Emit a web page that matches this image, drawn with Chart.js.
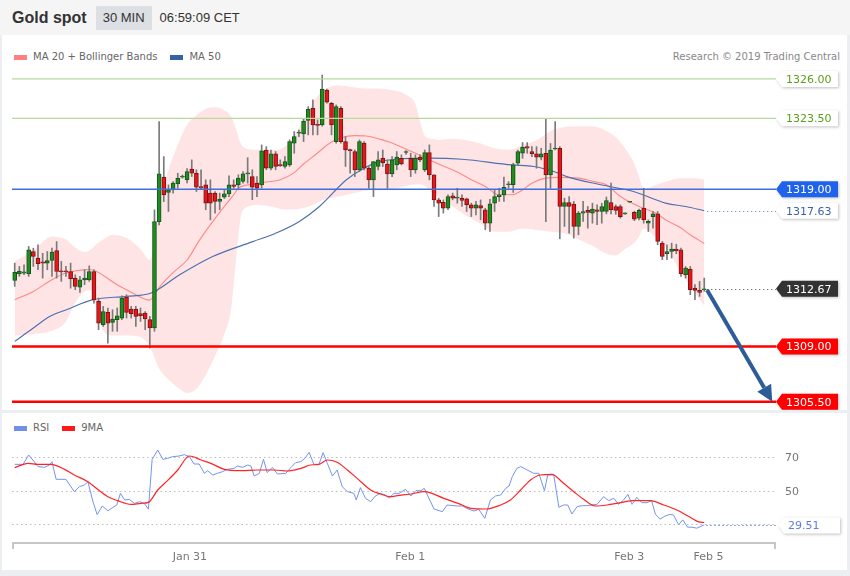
<!DOCTYPE html>
<html>
<head>
<meta charset="utf-8">
<script src="https://cdn.jsdelivr.net/npm/chart.js@4.4.1/dist/chart.umd.min.js"></script>
<style>
  body { margin: 0; width: 850px; height: 576px; position: relative; overflow: hidden; background: #eceef1; font-family: "DejaVu Sans", sans-serif; }
  .panel { position: absolute; left: 2px; width: 845px; background: #fff; }
  #head { position: absolute; left: 0; top: 0; width: 850px; height: 35px; background: #f5f5f5; display: flex; align-items: center; font-family: "Liberation Sans", Arial, sans-serif; color: #333; }
  #head .title { margin-left: 12px; font-weight: bold; font-size: 16px; }
  #head .tf { margin-left: 9px; background: #dcdfe3; height: 24px; line-height: 24px; padding: 0 7px; font-size: 13px; }
  #head .time { margin-left: 8px; font-size: 13px; }
  .legend { position: absolute; left: 14px; font-size: 10px; color: #666; display: flex; align-items: center; height: 12px; line-height: 12px; }
  .legend i { display: inline-block; width: 13px; height: 5px; margin-right: 6px; }
  .legend span { margin-right: 13px; }
  #credit { position: absolute; right: 10px; top: 51px; font-size: 10px; color: #888; line-height: 12px; }
  canvas { position: absolute; left: 0; }
</style>
</head>
<body>
<div id="head"><span class="title">Gold spot</span><span class="tf">30 MIN</span><span class="time">06:59:09 CET</span></div>
<div class="panel" style="top:35px;height:375px"></div>
<div class="panel" style="top:413px;height:157px"></div>

<div class="legend" style="top:51px"><i style="background:#ff8080"></i><span>MA 20 + Bollinger Bands</span><i style="background:#3561a6"></i><span>MA 50</span></div>
<div id="credit">Research © 2019 Trading Central</div>
<div class="legend" style="top:422px"><i style="background:#6f8fea"></i><span>RSI</span><i style="background:#ff1a1a"></i><span>9MA</span></div>

<canvas id="priceChart" width="850" height="340" style="top:70px"></canvas>
<canvas id="rsiChart" width="850" height="166" style="top:410px"></canvas>

<script>
// 30 min candles
const candleOpen = [
  1313.20, 1313.62, 1313.67, 1313.62, 1315.04, 1314.62, 1314.39, 1314.30, 1314.47, 1315.10,
  1313.77, 1313.77, 1313.77, 1313.35, 1312.78, 1313.24, 1313.24, 1313.77, 1311.87, 1310.39,
  1311.17, 1310.54, 1310.71, 1310.81, 1312.14, 1311.38, 1311.38, 1311.09, 1311.13, 1310.71,
  1310.18, 1316.94, 1319.76, 1318.79, 1318.95, 1319.33, 1319.76, 1319.59, 1320.27, 1320.01,
  1319.13, 1319.27, 1318.75, 1318.75, 1318.22, 1318.49, 1318.70, 1319.27, 1319.27, 1319.49,
  1319.97, 1319.80, 1319.38, 1319.27, 1321.49, 1320.33, 1321.24, 1320.54, 1320.44, 1320.54,
  1321.92, 1322.55, 1322.51, 1323.36, 1324.14, 1323.08, 1323.08, 1325.30, 1324.46, 1322.02,
  1324.14, 1322.02, 1321.49, 1321.39, 1320.23, 1321.92, 1320.33, 1319.59, 1320.44, 1320.96,
  1320.59, 1319.97, 1320.54, 1320.96, 1321.33, 1320.96, 1320.23, 1321.03, 1320.23, 1321.33,
  1319.91, 1318.32, 1318.17, 1317.79, 1318.58, 1318.43, 1318.43, 1318.38, 1318.00, 1317.79,
  1317.95, 1317.69, 1316.84, 1318.11, 1318.53, 1318.64, 1319.28, 1319.28, 1320.65, 1321.28,
  1321.70, 1321.39, 1321.24, 1321.03, 1321.28, 1319.91, 1321.55, 1321.60, 1317.90, 1318.15,
  1318.05, 1316.63, 1317.48, 1317.65, 1317.48, 1317.69, 1317.58, 1317.58, 1318.15, 1317.90,
  1317.90, 1317.43, 1318.17, 1317.52, 1317.16, 1317.79, 1316.84, 1317.26, 1317.43, 1315.57,
  1314.90, 1315.04, 1315.19, 1315.15, 1313.56, 1313.92, 1312.72, 1312.57, 1312.61
];
const candleHigh = [
  1314.30, 1314.09, 1314.19, 1315.36, 1315.25, 1315.46, 1314.93, 1315.04, 1315.25, 1315.67,
  1314.41, 1314.09, 1314.30, 1313.56, 1313.46, 1313.88, 1314.13, 1313.88, 1312.08, 1311.55,
  1311.45, 1311.34, 1311.45, 1312.23, 1312.29, 1311.55, 1311.55, 1311.45, 1311.23, 1310.92,
  1317.68, 1323.29, 1321.07, 1319.27, 1319.48, 1320.01, 1319.90, 1320.30, 1320.86, 1320.23,
  1320.23, 1319.59, 1319.59, 1318.85, 1318.75, 1318.96, 1319.84, 1319.59, 1319.91, 1320.12,
  1321.00, 1320.23, 1319.80, 1321.81, 1321.70, 1321.49, 1321.39, 1320.86, 1321.07, 1322.13,
  1322.66, 1322.76, 1323.50, 1324.24, 1324.67, 1323.40, 1326.25, 1325.36, 1324.52, 1324.35,
  1324.24, 1322.34, 1321.55, 1321.49, 1322.13, 1322.02, 1320.44, 1320.75, 1321.39, 1321.49,
  1320.86, 1321.07, 1321.39, 1321.18, 1321.45, 1321.28, 1321.18, 1321.18, 1321.49, 1321.81,
  1319.91, 1318.43, 1318.32, 1318.64, 1318.75, 1319.06, 1318.64, 1318.43, 1318.11, 1318.22,
  1318.32, 1317.79, 1318.36, 1318.96, 1319.06, 1319.76, 1319.48, 1320.65, 1321.49, 1321.96,
  1321.96, 1321.70, 1321.70, 1321.60, 1323.50, 1321.90, 1323.29, 1321.70, 1318.43, 1318.53,
  1318.22, 1317.58, 1318.22, 1317.90, 1318.11, 1318.00, 1318.11, 1318.50, 1319.38, 1318.00,
  1318.00, 1317.50, 1318.20, 1317.60, 1317.73, 1319.06, 1317.05, 1317.58, 1317.58, 1315.68,
  1315.47, 1315.57, 1315.50, 1315.26, 1314.09, 1314.09, 1312.93, 1313.14, 1313.35
];
const candleLow = [
  1312.82, 1313.46, 1313.56, 1313.46, 1314.09, 1313.88, 1313.35, 1313.88, 1313.46, 1313.35,
  1313.14, 1313.46, 1312.71, 1312.61, 1312.44, 1312.93, 1313.14, 1311.76, 1310.07, 1310.28,
  1309.22, 1309.97, 1309.97, 1310.71, 1310.81, 1310.81, 1310.28, 1310.60, 1310.07, 1308.91,
  1309.97, 1316.73, 1318.21, 1317.58, 1318.74, 1319.06, 1319.70, 1319.40, 1319.80, 1318.85,
  1318.96, 1317.69, 1317.05, 1317.48, 1317.69, 1318.40, 1318.53, 1319.06, 1319.06, 1319.38,
  1319.38, 1318.33, 1318.53, 1319.06, 1320.23, 1320.23, 1320.23, 1320.44, 1320.33, 1320.44,
  1321.28, 1322.34, 1322.02, 1322.45, 1322.45, 1322.45, 1323.00, 1324.46, 1322.45, 1321.92,
  1321.92, 1320.44, 1320.01, 1319.80, 1320.12, 1320.23, 1319.06, 1318.53, 1320.23, 1320.44,
  1319.06, 1319.80, 1320.23, 1320.54, 1321.20, 1319.80, 1320.01, 1320.75, 1320.12, 1319.59,
  1317.90, 1317.26, 1317.48, 1317.69, 1318.32, 1318.11, 1317.90, 1317.58, 1317.26, 1317.37,
  1317.05, 1316.42, 1316.31, 1317.58, 1318.22, 1318.22, 1319.06, 1318.79, 1320.54, 1320.96,
  1321.28, 1321.07, 1320.33, 1320.86, 1316.94, 1319.06, 1321.50, 1315.85, 1316.63, 1316.21,
  1315.89, 1316.10, 1316.95, 1316.52, 1316.84, 1316.74, 1316.84, 1317.43, 1317.43, 1317.40,
  1317.16, 1317.40, 1318.15, 1317.00, 1317.05, 1316.84, 1316.31, 1316.52, 1315.47, 1314.52,
  1314.52, 1314.62, 1314.90, 1313.46, 1313.35, 1312.30, 1311.98, 1312.19, 1312.51
];
const candleClose = [
  1313.71, 1313.79, 1313.75, 1315.15, 1314.72, 1314.26, 1314.30, 1314.47, 1315.00, 1313.77,
  1313.75, 1313.75, 1313.29, 1312.82, 1313.24, 1313.35, 1313.77, 1311.97, 1310.49, 1311.23,
  1310.49, 1310.75, 1310.96, 1312.08, 1311.17, 1311.09, 1310.92, 1310.96, 1310.75, 1310.18,
  1316.94, 1319.97, 1318.64, 1318.95, 1319.38, 1319.69, 1319.80, 1320.12, 1320.01, 1319.13,
  1319.10, 1318.11, 1318.11, 1318.22, 1318.36, 1318.70, 1319.27, 1319.17, 1319.70, 1319.97,
  1320.01, 1319.13, 1319.06, 1321.43, 1320.33, 1321.24, 1320.44, 1320.50, 1320.75, 1322.02,
  1322.34, 1322.58, 1323.33, 1324.07, 1323.08, 1323.05, 1325.36, 1324.52, 1323.08, 1324.24,
  1322.02, 1321.49, 1321.45, 1320.23, 1322.02, 1320.33, 1319.59, 1320.75, 1320.86, 1320.69,
  1319.97, 1320.86, 1321.03, 1320.61, 1321.33, 1320.23, 1320.96, 1320.86, 1321.33, 1319.91,
  1318.32, 1318.11, 1317.79, 1318.53, 1318.43, 1318.43, 1318.28, 1318.01, 1317.79, 1318.00,
  1317.79, 1316.84, 1318.07, 1318.53, 1318.64, 1319.12, 1319.30, 1320.54, 1321.39, 1321.66,
  1321.60, 1321.24, 1321.03, 1321.24, 1319.91, 1321.49, 1321.60, 1317.90, 1318.15, 1317.90,
  1316.63, 1317.48, 1317.58, 1317.52, 1317.73, 1317.58, 1317.90, 1318.28, 1317.69, 1317.65,
  1317.26, 1317.45, 1318.17, 1317.09, 1317.65, 1317.05, 1316.95, 1317.43, 1315.68, 1314.73,
  1315.04, 1315.19, 1315.10, 1313.63, 1313.99, 1312.61, 1312.57, 1312.44, 1312.67
];

// moving averages and bands, sampled at candle positions
const ma20Idx = [0, 4, 8, 11, 16, 22, 25.3, 29, 30, 31, 34, 37, 39.7, 43.3, 46.7, 48.2, 51, 54, 57, 60,
  62, 65, 67.5, 70, 73, 75.5, 78, 80.4, 83.6, 86.8, 90.4, 93, 95.4, 98, 101, 104, 106.7, 109, 111, 114,
  117, 121, 124, 127, 130, 134, 137.5, 140, 142.5, 145, 148];
const ma20Val = [1311.98, 1312.5, 1313.25, 1313.67, 1313.9, 1312.93, 1312.4, 1311.95, 1312.3, 1312.75,
  1313.7, 1314.5, 1315.78, 1317.26, 1318.53, 1319.1, 1319.3, 1319.45, 1319.6, 1320.05,
  1320.6, 1321.3, 1321.9, 1322.26, 1322.4, 1322.38, 1322.2, 1322.0, 1321.6, 1321.18,
  1320.67, 1320.35, 1320.03, 1319.6, 1319.17, 1318.64, 1318.64, 1318.95, 1319.38, 1319.7,
  1319.75, 1319.7, 1319.5, 1319.28, 1318.53, 1317.9, 1317.5, 1317.0, 1316.63, 1316.1, 1315.55];

const ma50Idx = [0, 4, 7.6, 11.1, 16.8, 24, 29.3, 35.4, 42.5, 51.1, 56, 61.1, 65.4, 71.2, 74.5, 78.2,
  81.9, 89, 96, 106.7, 111.4, 115.7, 118.5, 125.8, 132.8, 139.9, 144, 148];
const ma50Val = [1309.33, 1310.18, 1310.92, 1311.34, 1311.98, 1312.19, 1312.4, 1313.56, 1314.72, 1315.67,
  1316.2, 1316.95, 1317.9, 1319.6, 1320.25, 1320.75, 1320.9, 1320.97, 1320.9, 1320.54,
  1320.44, 1320.12, 1319.8, 1319.28, 1318.85, 1318.1, 1317.9, 1317.63];

const bbIdx = [0, 4, 8, 11, 13, 15, 16.5, 17.5, 19, 21, 24, 27, 29, 30, 31, 33, 35, 37, 39, 41,
  43, 45, 46.5, 47.5, 48.5, 49.5, 52, 55, 58, 60, 62, 64, 66, 69, 72, 75, 78, 81, 84, 86,
  87, 88, 89.5, 91, 94, 97, 100, 103, 106, 109, 112, 115, 118, 121, 124, 127, 129, 131, 133, 134,
  135, 137, 140, 143, 146, 148];
const bbUpper = [1314.4, 1315.1, 1316.0, 1315.8, 1315.3, 1315.0, 1315.2, 1315.5, 1315.8, 1316.1,
  1315.9, 1315.2, 1314.5, 1315.5, 1317.8, 1320.2, 1321.8, 1323.1, 1323.7, 1324.1,
  1324.2, 1324.0, 1323.6, 1322.8, 1321.9, 1321.6, 1321.5, 1321.5, 1321.7, 1322.4,
  1323.4, 1324.5, 1325.2, 1325.6, 1325.5, 1325.4, 1325.4, 1325.3, 1325.0, 1324.4,
  1323.3, 1322.4, 1322.2, 1322.13, 1322.2, 1322.1, 1321.9, 1321.6, 1321.5, 1321.8,
  1322.1, 1322.7, 1322.95, 1323.0, 1323.0, 1322.7, 1322.3, 1321.6, 1320.6, 1319.8,
  1319.0, 1319.2, 1319.5, 1319.7, 1319.7, 1319.6];
const bbLower = [1309.7, 1309.8, 1310.0, 1310.6, 1311.8, 1312.5, 1312.6, 1311.5, 1310.0, 1309.7,
  1309.7, 1309.6, 1309.0, 1308.3, 1307.6, 1306.9, 1306.4, 1306.05, 1306.3, 1307.2,
  1308.4, 1309.8, 1311.5, 1314.5, 1317.2, 1317.8, 1318.0, 1317.9, 1317.7, 1317.7,
  1317.8, 1318.0, 1318.3, 1318.5, 1318.7, 1318.9, 1319.0, 1319.0, 1319.2, 1319.3,
  1319.3, 1319.2, 1318.8, 1318.5, 1317.9, 1317.3, 1316.8, 1316.3, 1316.3, 1316.5,
  1316.4, 1316.3, 1316.2, 1315.8, 1315.4, 1314.9, 1314.8, 1315.2, 1315.6, 1316.0,
  1316.5, 1316.1, 1315.2, 1313.7, 1312.4, 1311.6];

// support / resistance levels and the projected move
const levels = [1326.00, 1323.50, 1319.00, 1309.00, 1305.50];
const arrowFrom = [148.6, 1312.6];
const arrowTo = [162.6, 1305.5];

// RSI panel
const rsiIdx = [0, 1.8, 3.0, 3.9, 5.0, 6.4, 7.5, 8.0, 8.9, 11.0,
  12.8, 13.9, 15.0, 15.7, 16.8, 17.7, 18.8, 20.0, 21.0, 21.9,
  22.7, 23.6, 24.6, 25.7, 26.8, 27.8, 28.7, 29.5, 30.7, 31.8,
  32.8, 33.9, 35.3, 36.4, 37.5, 38.5, 39.6, 40.7, 41.4, 42.5,
  43.5, 44.6, 45.7, 47.1, 47.8, 48.9, 50.0, 50.7, 51.4, 52.5,
  53.4, 54.2, 55.3, 56.4, 58.2, 59.1, 60.3, 61.4, 62.3, 63.2,
  64.2, 65.3, 66.2, 67.1, 68.2, 69.2, 70.3, 71.4, 72.8, 73.3,
  74.2, 75.3, 76.4, 77.4, 78.5, 79.6, 80.3, 81.4, 82.5, 83.9,
  85.0, 86.1, 87.2, 87.9, 90.0, 91.8, 92.8, 95.0, 96.1, 97.5,
  98.6, 99.6, 100.9, 102.1, 103.2, 104.3, 105.4, 106.1, 106.8, 107.8,
  108.6, 110.0, 111.4, 112.5, 113.7, 114.4, 115.7, 116.8, 117.8, 118.7,
  119.6, 120.7, 121.8, 122.8, 123.9, 125.0, 126.4, 127.5, 128.6, 129.6,
  130.7, 131.6, 132.5, 133.5, 134.6, 135.7, 136.7, 137.5, 138.5, 139.6,
  140.7, 141.4, 142.5, 143.4, 144.4, 145.3, 146.4, 148];
const rsiVal = [65.8, 65.8, 71.4, 68.4, 64.4, 64.0, 65.4, 67.4, 56.8, 56.8,
  49.4, 52.4, 53.4, 55.4, 43.4, 35.6, 40.8, 37.9, 39.8, 41.4,
  48.4, 44.4, 44.8, 42.4, 43.4, 42.4, 38.9, 68.8, 74.4, 68.8,
  69.4, 70.4, 70.8, 71.6, 70.4, 66.0, 66.0, 60.4, 62.0, 59.4,
  60.4, 61.4, 62.8, 63.4, 64.8, 64.0, 65.4, 64.8, 58.8, 60.4,
  68.8, 60.8, 64.0, 60.0, 60.4, 63.4, 66.8, 67.4, 69.4, 73.0,
  65.8, 65.8, 72.8, 66.4, 58.8, 62.4, 52.4, 49.4, 48.4, 44.4,
  51.8, 45.4, 43.4, 46.8, 48.4, 47.4, 45.4, 48.4, 48.4, 50.8,
  46.8, 50.0, 50.0, 51.4, 39.0, 37.4, 41.4, 40.8, 40.8, 38.8,
  37.8, 38.8, 33.4, 44.4, 46.8, 47.4, 51.4, 52.8, 58.4, 63.4,
  64.4, 62.4, 60.4, 60.4, 50.0, 59.4, 59.4, 40.0, 41.4, 41.4,
  36.0, 40.4, 41.0, 41.0, 41.4, 41.8, 46.4, 44.0, 45.4, 41.8,
  44.4, 47.8, 41.8, 46.0, 42.8, 42.8, 44.0, 36.0, 32.9, 34.8,
  35.8, 35.4, 29.5, 32.5, 28.1, 28.1, 27.5, 29.51];
const rsiMaIdx = [0, 2.85, 5.0, 7.8, 10.7, 12.8, 15.7, 17.8, 20.0, 22.1,
  25.0, 27.1, 28.7, 30.7, 32.8, 35.0, 37.5, 40.0, 42.1, 45.0,
  48.5, 52.1, 55.7, 58.5, 61.4, 63.5, 65.3, 67.1, 69.2, 71.4,
  73.5, 76.4, 78.5, 80.6, 82.1, 85.0, 87.9, 92.1, 95.7, 97.9,
  101.1, 104.3, 106.4, 108.6, 110.7, 112.8, 115.3, 117.8, 120.0, 122.1,
  124.6, 127.1, 130.0, 132.8, 136.4, 139.3, 142.1, 145.0, 146.8, 148];
const rsiMaVal = [63.8, 66.4, 65.8, 65.8, 62.8, 59.4, 55.4, 50.8, 46.4, 44.0,
  41.8, 42.4, 43.0, 50.4, 56.0, 62.4, 70.8, 68.4, 66.4, 62.8,
  62.0, 62.4, 62.4, 61.8, 63.4, 65.4, 65.8, 68.4, 67.0, 62.4,
  57.4, 50.4, 48.0, 46.4, 47.0, 48.0, 49.4, 45.4, 41.8, 39.4,
  39.0, 41.4, 44.4, 50.4, 56.4, 59.4, 59.8, 54.4, 49.4, 44.8,
  40.8, 41.4, 42.8, 44.0, 44.0, 41.4, 38.4, 34.0, 31.3, 30.9];
const rsiLevels = [70, 50, 30];

const dateTickPos = [37.6, 84.9, 131.9, 148.9];
const dateTickLabels = ['Jan 31', 'Feb 1', 'Feb 3', 'Feb 5'];

// --- layout ---
const xMin = -0.58, xMax = 163.4;
const FONT = '11px "DejaVu Sans"';

const pts = (xs, ys) => xs.map((v, k) => ({ x: v, y: ys[k] }));
const ids = candleClose.map((_, i) => i);
const up = i => candleClose[i] >= candleOpen[i];

function drawTag(ctx, left, py, text, bg, fg) {
  const w = 62, h = 16, tip = 6;
  ctx.save();
  ctx.shadowColor = 'rgba(0,0,0,0.25)';
  ctx.shadowBlur = 3;
  ctx.shadowOffsetX = 1;
  ctx.shadowOffsetY = 1;
  ctx.beginPath();
  ctx.moveTo(left, py);
  ctx.lineTo(left + tip, py - h / 2);
  ctx.lineTo(left + w, py - h / 2);
  ctx.lineTo(left + w, py + h / 2);
  ctx.lineTo(left + tip, py + h / 2);
  ctx.closePath();
  ctx.fillStyle = bg;
  ctx.fill();
  ctx.restore();
  ctx.save();
  ctx.fillStyle = fg;
  ctx.font = FONT;
  ctx.textBaseline = 'middle';
  ctx.textAlign = 'left';
  ctx.fillText(text, left + 10, py + 1);
  ctx.restore();
}

const levelStyle = [
  { line: '#b6da9c', width: 1.3, bg: '#fff', fg: '#5a9f1b' },
  { line: '#b6da9c', width: 1.3, bg: '#fff', fg: '#5a9f1b' },
  { line: '#3e6fdc', width: 1.5, bg: '#1f63ec', fg: '#fff' },
  { line: '#ff0000', width: 2.5, bg: '#ff0000', fg: '#fff' },
  { line: '#ff0000', width: 2.5, bg: '#ff0000', fg: '#fff' }
];

const priceOverlay = {
  id: 'priceOverlay',
  afterDatasetsDraw(chart) {
    const { ctx, chartArea: area, scales: { x, y } } = chart;
    ctx.save();
    levels.forEach((v, k) => {
      const py = y.getPixelForValue(v);
      ctx.strokeStyle = levelStyle[k].line;
      ctx.lineWidth = levelStyle[k].width;
      ctx.beginPath();
      ctx.moveTo(area.left, py);
      ctx.lineTo(area.right, py);
      ctx.stroke();
    });

    const last = candleClose.length - 1;
    const lastMa50 = ma50Val[ma50Val.length - 1];
    const lx = x.getPixelForValue(last) + 3;
    ctx.setLineDash([1, 3]);
    ctx.lineWidth = 1;
    [[lastMa50, '#5573a8'], [candleClose[last], '#444']].forEach(([v, c]) => {
      const py = Math.round(y.getPixelForValue(v)) + 0.5;
      ctx.strokeStyle = c;
      ctx.beginPath();
      ctx.moveTo(lx, py);
      ctx.lineTo(area.right, py);
      ctx.stroke();
    });
    ctx.setLineDash([]);

    // projection arrow
    const ax0 = x.getPixelForValue(arrowFrom[0]), ay0 = y.getPixelForValue(arrowFrom[1]);
    const ax1 = x.getPixelForValue(arrowTo[0]), ay1 = y.getPixelForValue(arrowTo[1]);
    const ang = Math.atan2(ay1 - ay0, ax1 - ax0);
    const head = 16, half = 8;
    const bx = ax1 - head * Math.cos(ang), by = ay1 - head * Math.sin(ang);
    ctx.strokeStyle = '#2c5d98';
    ctx.fillStyle = '#2c5d98';
    ctx.lineWidth = 4;
    ctx.beginPath();
    ctx.moveTo(ax0, ay0);
    ctx.lineTo(bx, by);
    ctx.stroke();
    ctx.beginPath();
    ctx.moveTo(ax1, ay1);
    ctx.lineTo(bx + half * Math.sin(ang), by - half * Math.cos(ang));
    ctx.lineTo(bx - half * Math.sin(ang), by + half * Math.cos(ang));
    ctx.closePath();
    ctx.fill();
    ctx.restore();

    levels.forEach((v, k) => drawTag(ctx, area.right, y.getPixelForValue(v), v.toFixed(2), levelStyle[k].bg, levelStyle[k].fg));
    drawTag(ctx, area.right, y.getPixelForValue(lastMa50), lastMa50.toFixed(2), '#fff', '#3b62a6');
    drawTag(ctx, area.right, y.getPixelForValue(candleClose[last]), candleClose[last].toFixed(2), '#333', '#fff');
  }
};

new Chart(document.getElementById('priceChart'), {
  type: 'bar',
  data: {
    datasets: [
      { type: 'line', data: pts(bbIdx, bbUpper), borderWidth: 0, pointRadius: 0, fill: '+1',
        backgroundColor: 'rgba(252, 196, 196, 0.45)', cubicInterpolationMode: 'monotone', order: 4 },
      { type: 'line', data: pts(bbIdx, bbLower), borderWidth: 0, pointRadius: 0, fill: false,
        cubicInterpolationMode: 'monotone', order: 4 },
      { type: 'line', data: pts(ma50Idx, ma50Val), borderColor: '#4d70b2', borderWidth: 1.2, pointRadius: 0,
        fill: false, cubicInterpolationMode: 'monotone', order: 3 },
      { type: 'line', data: pts(ma20Idx, ma20Val), borderColor: '#ff8888', borderWidth: 1.1, pointRadius: 0,
        fill: false, cubicInterpolationMode: 'monotone', order: 3 },
      { data: ids.map(i => ({ x: i, y: [candleLow[i], candleHigh[i]] })), backgroundColor: '#7a7a7a',
        barThickness: 1, grouped: false, order: 2 },
      { data: ids.map(i => ({ x: i, y: [candleOpen[i], candleClose[i]] })),
        backgroundColor: ids.map(i => up(i) ? '#1f8c1f' : '#e8161b'),
        borderColor: ids.map(i => up(i) ? '#16541a' : '#7c1212'),
        borderWidth: 1, borderSkipped: false, barThickness: 4, minBarLength: 1, grouped: false, order: 1 }
    ]
  },
  options: {
    responsive: false,
    animation: false,
    events: [],
    layout: { padding: { left: 12, right: 74, top: 0, bottom: 0 } },
    plugins: { legend: { display: false }, tooltip: { enabled: false } },
    scales: {
      x: { type: 'linear', min: xMin, max: xMax, offset: false, display: false },
      y: { type: 'linear', min: 1304.97, max: 1326.57, display: false }
    }
  },
  plugins: [priceOverlay]
});

const rsiOverlay = {
  id: 'rsiOverlay',
  beforeDatasetsDraw(chart) {
    const { ctx, chartArea: area, scales: { y } } = chart;
    ctx.save();
    ctx.strokeStyle = '#bdbdbd';
    ctx.lineWidth = 1;
    ctx.setLineDash([1.5, 3]);
    rsiLevels.forEach(v => {
      const py = Math.round(y.getPixelForValue(v)) + 0.5;
      ctx.beginPath();
      ctx.moveTo(area.left, py);
      ctx.lineTo(area.right, py);
      ctx.stroke();
    });
    ctx.restore();
  },
  afterDatasetsDraw(chart) {
    const { ctx, chartArea: area, scales: { x, y } } = chart;
    ctx.save();
    ctx.font = FONT;
    ctx.fillStyle = '#777';
    ctx.textBaseline = 'middle';
    ctx.textAlign = 'left';
    rsiLevels.forEach(v => ctx.fillText(String(v), area.right + 9, y.getPixelForValue(v) + 1));

    // time axis
    ctx.strokeStyle = '#c6c6c6';
    ctx.lineWidth = 2;
    ctx.beginPath();
    ctx.moveTo(area.left, area.bottom);
    ctx.lineTo(area.right, area.bottom);
    ctx.moveTo(area.left + 1, area.bottom);
    ctx.lineTo(area.left + 1, area.bottom + 6);
    ctx.moveTo(area.right - 1, area.bottom);
    ctx.lineTo(area.right - 1, area.bottom + 6);
    ctx.stroke();
    ctx.textAlign = 'center';
    dateTickPos.forEach((v, k) => ctx.fillText(dateTickLabels[k], x.getPixelForValue(v), area.bottom + 14));

    const lastRsi = rsiVal[rsiVal.length - 1];
    const py = Math.round(y.getPixelForValue(lastRsi)) + 0.5;
    ctx.strokeStyle = '#6f8fea';
    ctx.lineWidth = 1;
    ctx.setLineDash([1.5, 2.5]);
    ctx.beginPath();
    ctx.moveTo(x.getPixelForValue(rsiIdx[rsiIdx.length - 1]) + 2, py);
    ctx.lineTo(area.right + 2, py);
    ctx.stroke();
    ctx.restore();
    drawTag(ctx, area.right + 2, py, lastRsi.toFixed(2), '#fff', '#5b7fe3');
  }
};

new Chart(document.getElementById('rsiChart'), {
  type: 'line',
  data: {
    datasets: [
      { data: pts(rsiIdx, rsiVal), borderColor: '#7393ee', borderWidth: 1, pointRadius: 0, fill: false, order: 2 },
      { data: pts(rsiMaIdx, rsiMaVal), borderColor: '#ff2424', borderWidth: 1.2, pointRadius: 0, fill: false,
        cubicInterpolationMode: 'monotone', order: 1 }
    ]
  },
  options: {
    responsive: false,
    animation: false,
    events: [],
    layout: { padding: { left: 12, right: 74, top: 26, bottom: 33 } },
    plugins: { legend: { display: false }, tooltip: { enabled: false } },
    scales: {
      x: { type: 'linear', min: xMin, max: xMax, display: false },
      y: { type: 'linear', min: 18.6, max: 82.8, display: false }
    }
  },
  plugins: [rsiOverlay]
});
</script>
</body>
</html>
